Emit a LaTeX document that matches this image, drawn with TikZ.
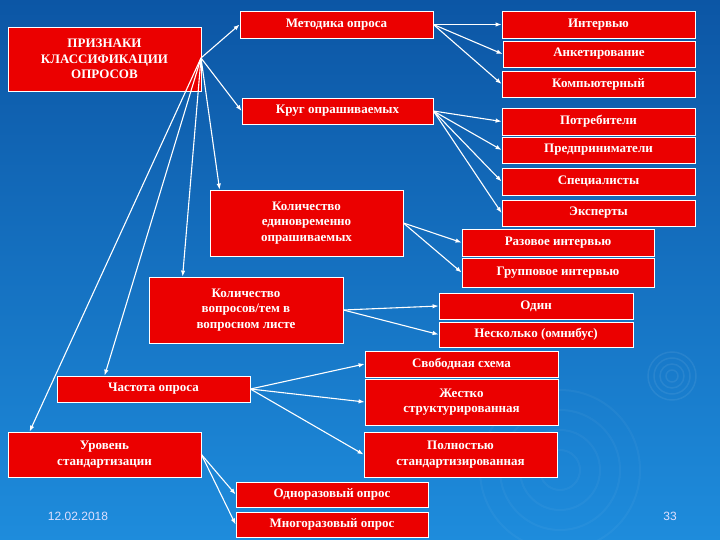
\documentclass[tikz,border=0pt]{standalone}
\usepackage{fontspec}
\setmainfont{Liberation Serif}
\newfontfamily\footfont{Liberation Sans}
\usetikzlibrary{arrows.meta}
\tikzset{
  bx/.style={draw=white, line width=0.8pt, fill={rgb,255:red,235;green,0;blue,0}, text=white, font=\fontsize{13}{15.5}\selectfont\bfseries, align=center, inner sep=0pt},
  ar/.style={draw=white, line width=1.1pt, -{Latex[length=6pt,width=4.5pt]}},
  foot/.style={text=white!88!blue, font=\footfont\fontsize{12}{14}\selectfont}
}
\newcommand{\bxx}[6]{\node[bx, minimum width={#4-#2}, minimum height={#5-#3}] (#1) at ({(#2+#4)/2},{(#3+#5)/2}) {#6};}
\begin{document}
\begin{tikzpicture}[x=1pt,y=-1pt]
\shade[top color={rgb,255:red,12;green,86;blue,165}, bottom color={rgb,255:red,30;green,140;blue,220}] (0,0) rectangle (720,540);
\useasboundingbox (0,0) rectangle (720,540);
\foreach \r in {6,12,18,24} \draw[white, opacity=0.07, line width=1.5pt] (672,376) circle (\r);
\foreach \r in {20,40,60,80} \draw[white, opacity=0.04, line width=2pt] (560,470) circle (\r);
\bxx{main}{8}{27}{201}{91}{ПРИЗНАКИ\\КЛАССИФИКАЦИИ\\ОПРОСОВ}
\bxx{met}{240}{11}{433}{38}{Методика опроса}
\bxx{krug}{242}{98}{433}{124}{Круг опрашиваемых}
\bxx{int}{502}{11}{695}{38}{Интервью}
\bxx{ank}{503}{41}{695}{67}{Анкетирование}
\bxx{komp}{502}{71}{695}{97}{Компьютерный}
\bxx{potr}{502}{108}{695}{135}{Потребители}
\bxx{pred}{502}{137}{695}{163}{Предприниматели}
\bxx{spec}{502}{168}{695}{195}{Специалисты}
\bxx{eksp}{502}{200}{695}{226}{Эксперты}
\bxx{kol}{210}{190}{403}{256}{Количество\\единовременно\\опрашиваемых}
\bxx{raz}{462}{229}{654}{256}{Разовое интервью}
\bxx{grup}{462}{258}{654}{287}{Групповое интервью}
\bxx{vopr}{149}{277}{343}{343}{Количество\\вопросов/тем в\\вопросном листе}
\bxx{odin}{439}{293}{633}{319}{Один}
\bxx{nesk}{439}{322}{633}{347}{Несколько (омнибус)}
\bxx{svob}{365}{351}{558}{377}{Свободная схема}
\bxx{zhest}{365}{379}{558}{425}{Жестко\\структурированная}
\bxx{poln}{364}{432}{557}{477}{Полностью\\стандартизированная}
\bxx{chast}{57}{376}{250}{402}{Частота опроса}
\bxx{urov}{8}{432}{201}{477}{Уровень\\стандартизации}
\bxx{odnor}{236}{482}{428}{507}{Одноразовый опрос}
\bxx{mnogo}{236}{512}{428}{537}{Многоразовый опрос}
\node[foot] (date) at (78,516) {12.02.2018};
\node[foot] (num) at (670,516) {33};
\coordinate (hub) at (201,58);
\draw[ar] (hub) -- (met.west);
\draw[ar] (hub) -- (krug.west);
\draw[ar] (hub) -- ([xshift=10pt]kol.north west);
\draw[ar] (hub) -- ([xshift=34pt]vopr.north west);
\draw[ar] (hub) -- ([xshift=48pt]chast.north west);
\draw[ar] (hub) -- ([xshift=22pt]urov.north west);
\draw[ar] (met.east) -- (int.west);
\draw[ar] (met.east) -- (ank.west);
\draw[ar] (met.east) -- (komp.west);
\draw[ar] (krug.east) -- (potr.west);
\draw[ar] (krug.east) -- (pred.west);
\draw[ar] (krug.east) -- (spec.west);
\draw[ar] (krug.east) -- (eksp.west);
\draw[ar] (kol.east) -- (raz.west);
\draw[ar] (kol.east) -- (grup.west);
\draw[ar] (vopr.east) -- (odin.west);
\draw[ar] (vopr.east) -- (nesk.west);
\draw[ar] (chast.east) -- (svob.west);
\draw[ar] (chast.east) -- (zhest.west);
\draw[ar] (chast.east) -- (poln.west);
\draw[ar] (urov.east) -- (odnor.west);
\draw[ar] (urov.east) -- (mnogo.west);
\end{tikzpicture}
\end{document}
